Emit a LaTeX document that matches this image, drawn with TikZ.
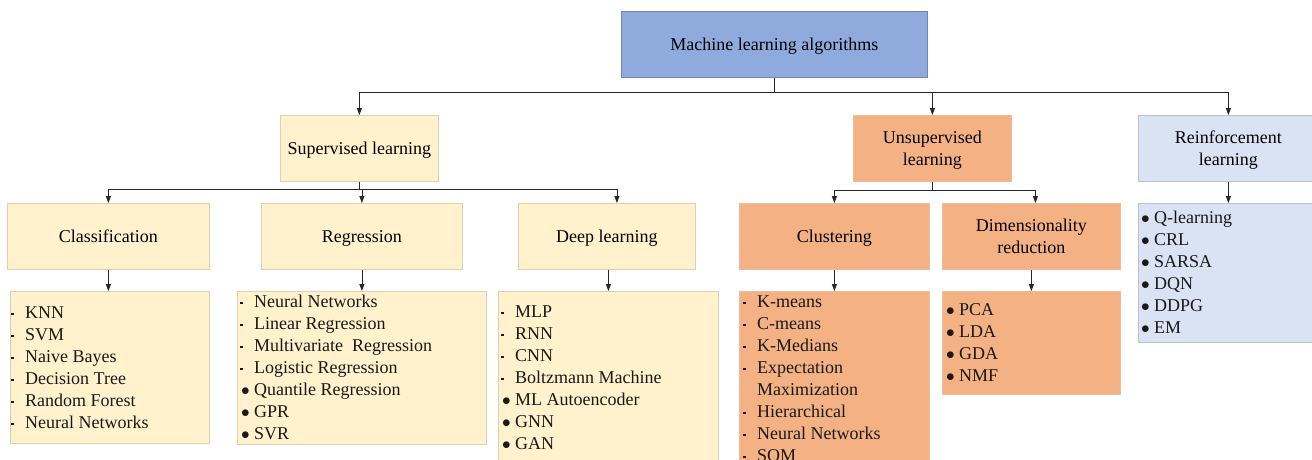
\documentclass[tikz,border=0pt]{standalone}
\usepackage{fontspec}
\setmainfont{Liberation Serif}
\usepackage{graphicx}
\usetikzlibrary{arrows.meta,calc}
\definecolor{yfill}{HTML}{FFF2CC}
\definecolor{ydraw}{HTML}{DDD0AC}
\definecolor{ofill}{HTML}{F4B183}
\definecolor{odraw}{HTML}{E9BC9C}
\definecolor{lfill}{HTML}{DAE3F3}
\definecolor{ldraw}{HTML}{B9C1D2}
\definecolor{rfill}{HTML}{8FAADC}
\definecolor{rdraw}{HTML}{7186B0}
\newcommand\bulS{\makebox[13pt][l]{\hspace{-0.8pt}\raisebox{3pt}{\rule{2.3pt}{2.3pt}}}}
\newcommand\bulL{\makebox[13pt][l]{$\bullet$}}
\newcommand\bulN{\makebox[13pt][l]{}}
\tikzset{
  hbox/.style={draw, line width=0.8pt, inner sep=0pt, align=center,
    font=\fontsize{18}{22}\selectfont, anchor=north west, text depth=0pt},
  ybox/.style={hbox, fill=yfill, draw=ydraw},
  obox/.style={hbox, fill=ofill, draw=odraw},
  lbox/.style={hbox, fill=lfill, draw=ldraw},
  rbox/.style={hbox, fill=rfill, draw=rdraw},
  item/.style={inner sep=0pt, anchor=base west, font=\fontsize{18}{22}\selectfont, text=black!90},
  conn/.style={line width=0.8pt, draw=black!85},
  arr/.style={conn, -{Triangle[length=7pt,width=5pt]}}
}
\begin{document}
\begin{tikzpicture}[x=1pt,y=-1pt]
\fill[white] (0,0) rectangle (1312,459);
\useasboundingbox (0,0) rectangle (1312,459);

% header boxes
\node[rbox, minimum width=306pt, minimum height=66pt] (root) at (621,11) {Machine learning algorithms};
\node[ybox, minimum width=158pt, minimum height=66pt] (sup) at (280,115) {Supervised learning};
\node[obox, minimum width=158pt, minimum height=66pt] (uns) at (853,115) {Unsupervised\\learning};
\node[lbox, minimum width=180pt, minimum height=66pt] (rl) at (1138,115) {Reinforcement\\learning};
\node[ybox, minimum width=202pt, minimum height=66pt] (cls) at (7,203) {Classification};
\node[ybox, minimum width=201pt, minimum height=66pt] (reg) at (261,203) {Regression};
\node[ybox, minimum width=177pt, minimum height=66pt] (dpl) at (518,203) {Deep learning};
\node[obox, minimum width=190pt, minimum height=66pt] (clu) at (739,203) {Clustering};
\node[obox, minimum width=178pt, minimum height=66pt] (dim) at (942,203) {Dimensionality\\reduction};

% list boxes
\node[ybox, minimum width=199pt, minimum height=152pt] (clsL) at (10,291) {};
\node[ybox, minimum width=249pt, minimum height=153pt] (regL) at (237,291) {};
\node[ybox, minimum width=220pt, minimum height=190pt] (dplL) at (498,291) {};
\node[obox, minimum width=190pt, minimum height=190pt] (cluL) at (739,291) {};
\node[obox, minimum width=178pt, minimum height=103pt] (dimL) at (942,291) {};
\node[lbox, minimum width=180pt, minimum height=139pt] (rlL) at (1138,203) {};

% list items
\foreach \b/\t [count=\i] in {\bulS/KNN, \bulS/SVM, \bulS/Naive Bayes, \bulS/Decision Tree, \bulS/Random Forest, \bulS/Neural Networks}
  \node[item] (cl\i) at (12,{318+22*(\i-1)}) {\b\t};
\foreach \b/\t [count=\i] in {\bulS/Neural Networks, \bulS/Linear Regression, \bulS/Multivariate\ \ Regression, \bulS/Logistic Regression, \bulL/Quantile Regression, \bulL/GPR, \bulL/SVR}
  \node[item] (rg\i) at (241,{307+22*(\i-1)}) {\b\t};
\foreach \b/\t [count=\i] in {\bulS/MLP, \bulS/RNN, \bulS/CNN, \bulS/Boltzmann Machine, \bulL/ML Autoencoder, \bulL/GNN, \bulL/GAN}
  \node[item] (dl\i) at (502,{317+22*(\i-1)}) {\b\t};
\foreach \b/\t [count=\i] in {\bulS/K-means, \bulS/C-means, \bulS/K-Medians, \bulS/Expectation, \bulN/Maximization, \bulS/Hierarchical, \bulS/Neural Networks, \bulS/SOM}
  \node[item] (cu\i) at (744,{307+22*(\i-1)}) {\b\t};
\foreach \b/\t [count=\i] in {\bulL/PCA, \bulL/LDA, \bulL/GDA, \bulL/NMF}
  \node[item] (dr\i) at (946,{315+22*(\i-1)}) {\b\t};
\foreach \b/\t [count=\i] in {\bulL/Q-learning, \bulL/CRL, \bulL/SARSA, \bulL/DQN, \bulL/DDPG, \bulL/EM}
  \node[item] (re\i) at (1141,{223+22*(\i-1)}) {\b\t};

% connectors
\draw[conn] (root.south) -- ++(0,15) coordinate (rj);
\draw[arr] (rj) -| (sup.north);
\draw[arr] (rj) -| (uns.north);
\draw[arr] (rj) -| (rl.north);

\draw[conn] (sup.south) -- ++(0,8) coordinate (sj);
\draw[arr] (sj) -| (cls.north);
\draw[arr] (sj) -| (reg.north);
\draw[arr] (sj) -| ([xshift=10pt]dpl.north);

\draw[conn] (uns.south) -- ++(0,9) coordinate (uj);
\draw[arr] (uj) -| (clu.north);
\draw[arr] (uj) -| ([xshift=4pt]dim.north);

\draw[arr] (cls.south) -- (cls.south |- clsL.north);
\draw[arr] (reg.south) -- (reg.south |- regL.north);
\draw[arr] (dplL.north |- dpl.south) -- (dplL.north);
\draw[arr] (clu.south) -- (cluL.north);
\draw[arr] (dim.south) -- (dim.south |- dimL.north);
\draw[arr] (rl.south) -- (rlL.north);
\end{tikzpicture}
\end{document}
